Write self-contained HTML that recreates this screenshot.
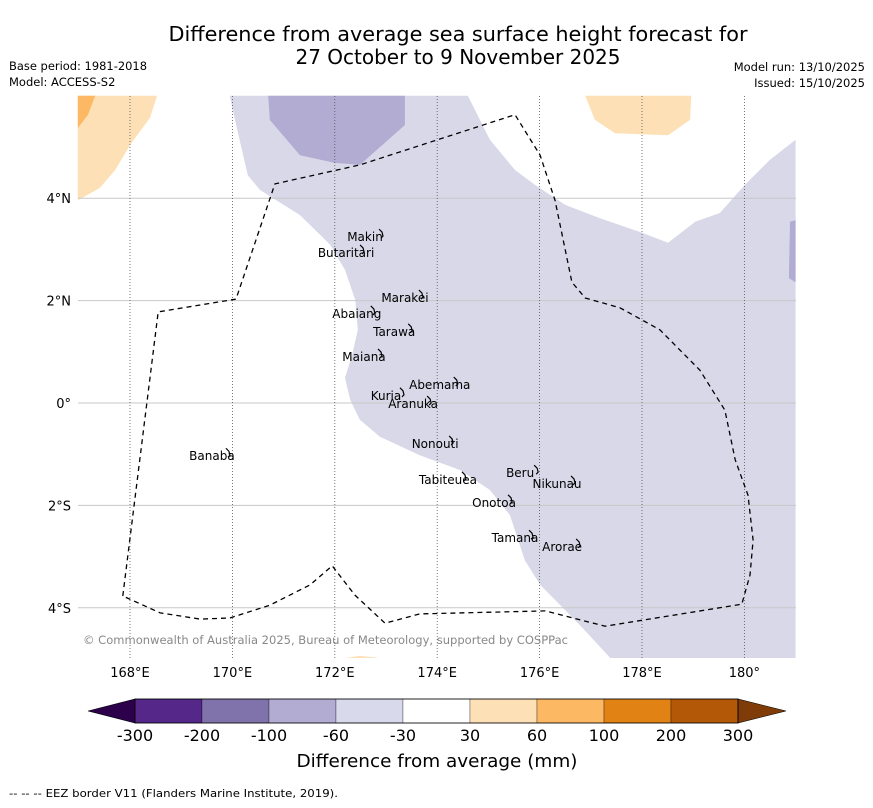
<!DOCTYPE html>
<html><head><meta charset="utf-8"><style>
body{margin:0;background:#fff;width:873px;height:804px;overflow:hidden;font-family:"DejaVu Sans",sans-serif}
svg text{font-family:"DejaVu Sans","Liberation Sans",sans-serif}
</style></head><body>
<svg id="map" width="873" height="804" xmlns="http://www.w3.org/2000/svg">
<text x="458" y="41" font-size="20" text-anchor="middle" textLength="579" lengthAdjust="spacingAndGlyphs">Difference from average sea surface height forecast for</text>
<text x="458" y="64" font-size="20" text-anchor="middle">27 October to 9 November 2025</text>
<text x="9" y="70" font-size="11.5" textLength="138" lengthAdjust="spacingAndGlyphs">Base period: 1981-2018</text>
<text x="9" y="86" font-size="11.5">Model: ACCESS-S2</text>
<text x="865" y="71" font-size="11.5" text-anchor="end">Model run: 13/10/2025</text>
<text x="865" y="87" font-size="11.5" text-anchor="end">Issued: 15/10/2025</text>
<g id="plot"></g>
<g id="cbar"></g>
<text x="437" y="767" font-size="18" text-anchor="middle" textLength="281" lengthAdjust="spacingAndGlyphs">Difference from average (mm)</text>
<text x="9" y="797" font-size="11" textLength="329" lengthAdjust="spacingAndGlyphs">--  --  -- EEZ border V11 (Flanders Marine Institute, 2019).</text>
</svg>
<script>
const lonTicks=[168,170,172,174,176,178,180];
const lonTickLabels=["168°E","170°E","172°E","174°E","176°E","178°E","180°"];
const latTicks=[4,2,0,-2,-4];
const latTickLabels=["4°N","2°N","0°","2°S","4°S"];
const lightPurple=[[169.95,6],[170.05,5.53],[170.3,4.45],[170.54,4.16],[171.32,3.67],[171.91,3.09],[172.2,2.6],[172.4,2.01],[172.45,1.43],[172.34,0.94],[172.2,0.49],[172.3,0.06],[172.49,-0.33],[172.88,-0.66],[173.66,-1.02],[174.45,-1.31],[175.03,-1.7],[175.42,-2.19],[175.71,-3.07],[176.01,-3.55],[176.79,-4.34],[177.38,-4.98],[181,-4.98],[181,5.14],[180.5,4.75],[180.01,4.26],[179.52,3.71],[179.04,3.54],[178.51,3.13],[177.96,3.34],[177.18,3.61],[176.5,3.87],[175.91,4.26],[175.52,4.55],[175.03,5.14],[174.6,6]];
const midPurpleA=[[170.7,6],[170.73,5.53],[171.32,4.84],[172,4.69],[172.49,4.65],[173.37,5.43],[173.37,6]];
const midPurpleB=[[180.89,3.54],[181,3.57],[181,2.36],[180.87,2.44]];
const lightOrangeA=[[166.98,6],[168.53,6],[168.39,5.57],[168,5.04],[167.71,4.55],[167.41,4.2],[166.98,3.96]];
const orangeA=[[166.98,6],[167.32,6],[167.18,5.63],[166.98,5.37]];
const lightOrangeB=[[176.89,6],[177.08,5.53],[177.47,5.27],[178.51,5.23],[178.94,5.53],[178.96,6]];
const lightOrangeC=[[172.2,-4.98],[172.49,-4.94],[172.88,-4.98]];
const eez=[[167.86,-3.77],[168.55,1.78],[170.07,2.03],[170.83,4.28],[172.49,4.65],[175.52,5.63],[176.01,4.84],[176.3,3.96],[176.63,2.36],[176.89,2.05],[177.57,1.86],[178.35,1.43],[179.13,0.64],[179.62,-0.14],[179.82,-1.11],[180.07,-1.8],[180.17,-2.68],[180.11,-3.36],[179.95,-3.93],[177.28,-4.36],[176.11,-4.06],[173.66,-4.12],[172.98,-4.3],[172.39,-3.75],[171.95,-3.18],[171.52,-3.55],[170.73,-3.95],[169.95,-4.2],[169.37,-4.22],[168.59,-4.1],[167.86,-3.77]];
const islandNames=["Makin","Butaritari","Marakei","Abaiang","Tarawa","Maiana","Abemama","Kuria","Aranuka","Banaba","Nonouti","Beru","Nikunau","Tabiteuea","Onotoa","Tamana","Arorae"];
const islandLon=[172.59,172.22,173.37,172.43,173.16,172.57,174.05,173.0,173.53,169.6,173.96,175.62,176.34,174.21,175.11,175.52,176.44];
const islandLat=[3.24,2.93,2.05,1.74,1.39,0.9,0.35,0.14,-0.02,-1.04,-0.8,-1.37,-1.58,-1.5,-1.95,-2.64,-2.81];
const cbarColors=["#542788","#8073ac","#b2abd2","#d8daeb","#ffffff","#fee0b6","#fdb863","#e08214","#b35806"];
const cbarLabels=["-300","-200","-100","-60","-30","30","60","100","200","300"];
const cbarUnder="#2d004b", cbarOver="#7f3b08";

const NS="http://www.w3.org/2000/svg";
const X0=78,X1=796,Y0=96,Y1=658;
const xs=lon=>130+(lon-168)*51.2;
const ys=lat=>403-lat*51.2;
function mk(tag,attrs,parent){const e=document.createElementNS(NS,tag);for(const k in attrs)e.setAttribute(k,attrs[k]);parent.appendChild(e);return e;}
const plot=document.getElementById('plot');
const pts=a=>a.map(p=>xs(p[0]).toFixed(1)+','+ys(p[1]).toFixed(1)).join(' ');
function poly(arr,fill,name){const e=mk('polygon',{points:pts(arr),fill:fill},plot);

}
poly(lightPurple,"#d8d8e9","contour-minus-30-to-60");
poly(midPurpleA,"#b2abd2","contour-minus-60-to-100-north");
poly(midPurpleB,"#b2abd2","contour-minus-60-to-100-east");
poly(lightOrangeA,"#fee0b6","contour-30-to-60-northwest");
poly(orangeA,"#fdb863","contour-60-to-100-northwest");
poly(lightOrangeB,"#fee0b6","contour-30-to-60-northeast");
poly(lightOrangeC,"#fee0b6","contour-30-to-60-south");
latTicks.forEach((v,i)=>{const y=ys(v);
const l=mk('line',{x1:X0,x2:X1,y1:y,y2:y,stroke:"#c8c8c8","stroke-width":1},plot);


const t=mk('text',{x:71,y:y+5,"font-size":13,"text-anchor":"end"},plot);t.textContent=latTickLabels[i];

});
lonTicks.forEach((v,i)=>{const x=xs(v);
const l=mk('line',{x1:x,x2:x,y1:Y0,y2:Y1,stroke:"#555","stroke-width":0.8,"stroke-dasharray":"1,2"},plot);


const t=mk('text',{x:x,y:677,"font-size":13,"text-anchor":"middle"},plot);t.textContent=lonTickLabels[i];

});
const e=mk('polyline',{points:pts(eez),fill:"none",stroke:"#000","stroke-width":1.3,"stroke-dasharray":"5,4"},plot);


islandNames.forEach((n,i)=>{const x=xs(islandLon[i]),y=ys(islandLat[i]);
const s=mk('path',{d:`M${x+14},${y-8} l3,3 l1,4 l-2,2`,fill:"none",stroke:"#000","stroke-width":1.2},plot);


const t=mk('text',{x:x,y:y+4,"font-size":12,"text-anchor":"middle"},plot);t.textContent=n;

});
const c=mk('text',{x:83,y:644,"font-size":11.5,fill:"#888",textLength:485,lengthAdjust:"spacingAndGlyphs"},plot);c.textContent="© Commonwealth of Australia 2025, Bureau of Meteorology, supported by COSPPac";


const cb=document.getElementById('cbar');
const cx0=135,cw=67.0,cy=699,ch=24;
const lt=mk('polygon',{points:`${cx0},${cy} ${cx0},${cy+ch} 88,${cy+ch/2}`,fill:cbarUnder,stroke:"#000","stroke-width":0.6},cb);


cbarColors.forEach((col,i)=>{const r=mk('rect',{x:cx0+i*cw,y:cy,width:cw,height:ch,fill:col,stroke:"#000","stroke-width":0.3},cb);

});
const xe=cx0+cbarColors.length*cw;
const rt=mk('polygon',{points:`${xe},${cy} ${xe},${cy+ch} 786,${cy+ch/2}`,fill:cbarOver,stroke:"#000","stroke-width":0.6},cb);


mk('rect',{x:cx0,y:cy,width:xe-cx0,height:ch,fill:"none",stroke:"#000","stroke-width":0.8},cb);
cbarLabels.forEach((l,i)=>{const t=mk('text',{x:cx0+i*cw,y:741,"font-size":16,"text-anchor":"middle"},cb);t.textContent=l;

});
</script>
</body></html>
